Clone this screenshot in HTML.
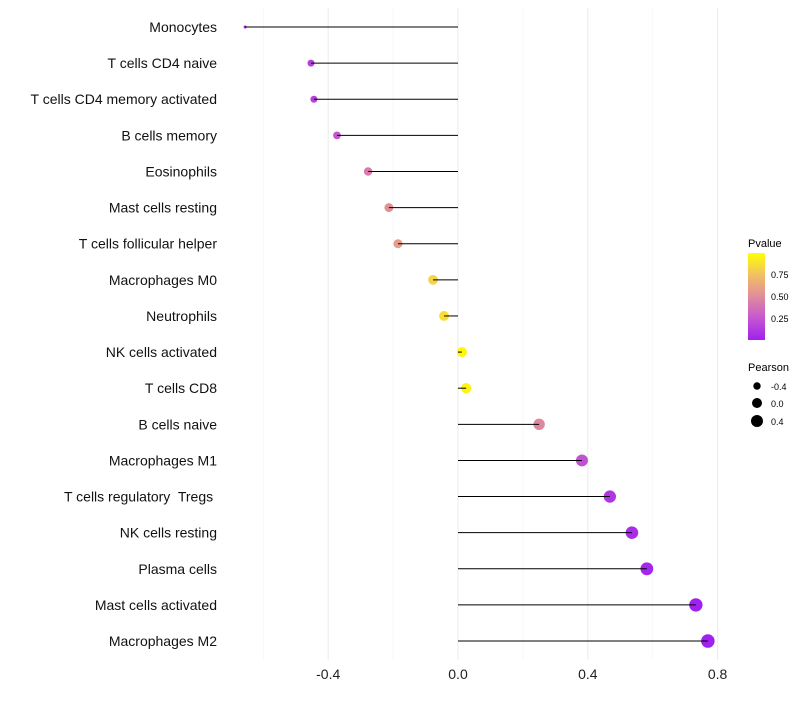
<!DOCTYPE html>
<html><head><meta charset="utf-8"><style>
body{margin:0;background:#fff;font-family:"Liberation Sans",sans-serif}
</style></head><body>
<svg id="chart" width="800" height="700" xmlns="http://www.w3.org/2000/svg">
<defs><linearGradient id="pg" x1="0" y1="1" x2="0" y2="0">
<stop offset="0" stop-color="#a020f0"/><stop offset="0.25" stop-color="#c656cf"/><stop offset="0.5" stop-color="#e08c9c"/><stop offset="0.75" stop-color="#f2c063"/><stop offset="1" stop-color="#ffff00"/></linearGradient></defs>
<g id="grid"></g><g id="marks"></g><g id="labels"></g>
<g>
<text x="748" y="247" font-size="11" fill="#000">Pvalue</text>
<rect x="748" y="253" width="17" height="87" fill="url(#pg)"/>
<text x="771" y="278" font-size="9">0.75</text>
<text x="771" y="300" font-size="9">0.50</text>
<text x="771" y="322" font-size="9">0.25</text>
</g>
<g>
<text x="748" y="371" font-size="11">Pearson</text>
<circle cx="757" cy="386" r="3.7"/>
<text x="771" y="390" font-size="9">-0.4</text>
<circle cx="757" cy="403" r="5"/>
<text x="771" y="407" font-size="9">0.0</text>
<circle cx="757" cy="421" r="6"/>
<text x="771" y="425" font-size="9">0.4</text>
</g>
</svg>
<script>
const categories=["Monocytes","T cells CD4 naive","T cells CD4 memory activated","B cells memory","Eosinophils","Mast cells resting","T cells follicular helper","Macrophages M0","Neutrophils","NK cells activated","T cells CD8","B cells naive","Macrophages M1","T cells regulatory\u00a0 Tregs\u00a0","NK cells resting","Plasma cells","Mast cells activated","Macrophages M2"];
const pearson=[-0.656,-0.453,-0.444,-0.373,-0.277,-0.213,-0.185,-0.077,-0.043,0.012,0.025,0.25,0.382,0.468,0.536,0.582,0.733,0.770];
const pvalues=[0.0,0.15,0.15,0.25,0.42,0.52,0.58,0.82,0.87,0.97,0.95,0.48,0.22,0.1,0.06,0.03,0.002,0.0];
const xTicks=[-0.4,0,0.4,0.8];
const xTickLabels=["-0.4","0.0","0.4","0.8"];
const xMinor=[-0.6,-0.2,0.2,0.6];
const NS="http://www.w3.org/2000/svg";
const X=v=>458+v*324.5;
const Y=i=>27+i*36.12;
const R=v=>1.5+4.4*Math.sqrt(Math.max(0,v+0.656));
const stops=[[0,[160,32,240]],[0.25,[198,86,207]],[0.5,[224,140,156]],[0.75,[242,192,99]],[1,[255,255,0]]];
function col(p){for(let k=1;k<stops.length;k++){if(p<=stops[k][0]){const a=stops[k-1],b=stops[k],t=(p-a[0])/(b[0]-a[0]);return 'rgb('+a[1].map((c,j)=>Math.round(c+(b[1][j]-c)*t)).join(',')+')';}}return 'rgb(255,255,0)';}
function mk(t,a,p){const e=document.createElementNS(NS,t);for(const k in a)e.setAttribute(k,a[k]);p.appendChild(e);return e;}
const grid=document.getElementById('grid'),marks=document.getElementById('marks'),labels=document.getElementById('labels');
xMinor.forEach(v=>{const l=mk('line',{x1:X(v),x2:X(v),y1:8,y2:660,stroke:'#f2f2f2','stroke-width':0.6},grid);

});
xTicks.forEach((v,i)=>{const l=mk('line',{x1:X(v),x2:X(v),y1:8,y2:660,stroke:'#ebebeb','stroke-width':1},grid);


const t=mk('text',{x:X(v),y:679,'font-size':14,'text-anchor':'middle',fill:'#222'},labels);t.textContent=xTickLabels[i];

});
categories.forEach((c,i)=>{const y=Y(i);
const t=mk('text',{x:217,y:y+5,'font-size':14,'text-anchor':'end',fill:'#111'},labels);t.textContent=c;


const d=mk('circle',{cx:X(pearson[i]),cy:y,r:R(pearson[i]),fill:col(pvalues[i])},marks);


const s=mk('line',{x1:X(0),x2:X(pearson[i]),y1:y,y2:y,stroke:'#000','stroke-width':1},marks);


});
</script>
</body></html>
